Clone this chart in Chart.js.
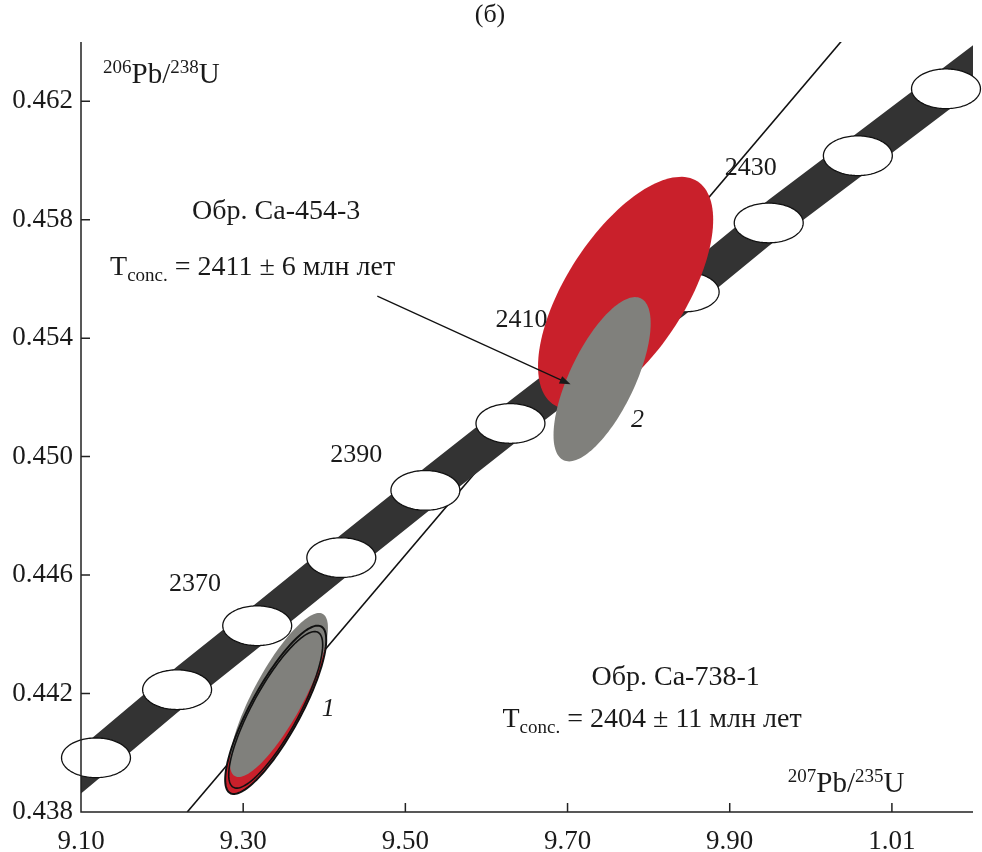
<!DOCTYPE html>
<html>
<head>
<meta charset="utf-8">
<script src="https://cdn.jsdelivr.net/npm/chart.js@4.4.1/dist/chart.umd.min.js"></script>
<style>
  html, body { margin: 0; padding: 0; background: #fff; }
  canvas { display: block; }
</style>
</head>
<body>
<canvas id="concordia" width="982" height="852"></canvas>
<script>
// age marks on the concordia (Ma) and where they sit on the plot
const ages = [2350, 2360, 2370, 2380, 2390, 2400, 2410, 2420, 2430, 2440, 2450];
const concX = [9.1185, 9.2185, 9.3173, 9.4210, 9.5247, 9.6296, 9.7358, 9.8444, 9.9481, 10.058, 10.1667];
const concY = [0.43983, 0.44213, 0.44429, 0.44659, 0.44886, 0.45112, 0.45336, 0.45556, 0.45789, 0.46016, 0.46242];
const markErrX = 0.0425;   // half size of the white age ellipses
const markErrY = 0.00067;

const labelAges = [2370, 2390, 2410, 2430];
const labelX = [9.2407, 9.4395, 9.6432, 9.9259];
const labelY = [0.44568, 0.45004, 0.45461, 0.45975];

// concordia band (edges)
const bandX = [9.000, 9.1185, 9.2185, 9.3173, 9.4210, 9.5247, 9.6296, 9.7358, 9.8444, 9.9481, 10.058, 10.1667, 10.300];
const bandUpper = [0.43788, 0.44061, 0.44291, 0.44507, 0.44737, 0.44964, 0.45190, 0.45414, 0.45634, 0.45867, 0.46094, 0.46320, 0.46597];
const bandLower = [0.43632, 0.43905, 0.44135, 0.44351, 0.44581, 0.44808, 0.45034, 0.45258, 0.45478, 0.45711, 0.45938, 0.46164, 0.46441];

// discordia line
const discX = [9.231, 10.040];
const discY = [0.4380, 0.4641];

// sample error ellipses: 1 (red, gray), 2 (red, gray)
const sampleNames = ['1a', '1b', '2a', '2b'];
const sampleX = [9.3401, 9.3440, 9.7716, 9.7426];
const sampleY = [0.44145, 0.441950, 0.455523, 0.452613];
const sampleErrX = [0.0623, 0.0605, 0.1080, 0.0599];
const sampleErrY = [0.002842, 0.00277, 0.003924, 0.002774];
const sampleRho = [0.83, 0.82, 0.63, 0.68];

// axes
const xTicks = [9.10, 9.30, 9.50, 9.70, 9.90, 10.10];
const xTickLabels = ['9.10', '9.30', '9.50', '9.70', '9.90', '1.01'];
const yTicks = [0.438, 0.442, 0.446, 0.450, 0.454, 0.458, 0.462];
const yTickLabels = ['0.438', '0.442', '0.446', '0.450', '0.454', '0.458', '0.462'];

// notes on the plot
const sampleA = 'Обр. Са-454-3';
const sampleAAge = ' = 2411 ± 6 млн лет';
const sampleB = 'Обр. Са-738-1';
const sampleBAge = ' = 2404 ± 11 млн лет';

const SERIF = "'Liberation Serif', 'Times New Roman', serif";
const RED = '#c9202b';
const GRAY = '#80807c';
const sampleFill = [RED, GRAY, RED, GRAY];

function ellipsePath(ctx, sx, sy, cx, cy, ex, ey, rho, k) {
  const r = Math.sqrt(1 - rho * rho);
  ctx.beginPath();
  for (let i = 0; i <= 144; i++) {
    const t = i / 144 * 2 * Math.PI;
    const x = sx.getPixelForValue(cx + k * ex * Math.cos(t));
    const y = sy.getPixelForValue(cy + k * ey * (rho * Math.cos(t) + r * Math.sin(t)));
    if (i === 0) ctx.moveTo(x, y); else ctx.lineTo(x, y);
  }
  ctx.closePath();
}

// text made of pieces: [text, size, dy]
function drawPieces(ctx, x, y, pieces, align) {
  let total = 0;
  pieces.forEach(p => { ctx.font = p[1] + 'px ' + SERIF; total += ctx.measureText(p[0]).width; });
  let cx = align === 'center' ? x - total / 2 : x;
  ctx.textAlign = 'left';
  ctx.textBaseline = 'alphabetic';
  pieces.forEach(p => {
    ctx.font = p[1] + 'px ' + SERIF;
    ctx.fillText(p[0], cx, y + p[2]);
    cx += ctx.measureText(p[0]).width;
  });
}

const concordiaPlugin = {
  id: 'concordia',
  afterDatasetsDraw(chart) {
    const ctx = chart.ctx;
    const sx = chart.scales.x, sy = chart.scales.y;
    ctx.save();
    // white age ellipses on the band
    ages.forEach((a, i) => {
      ellipsePath(ctx, sx, sy, concX[i], concY[i], markErrX, markErrY, 0, 1);
      ctx.fillStyle = '#fff';
      ctx.fill();
      ctx.lineWidth = 1.3;
      ctx.strokeStyle = '#111';
      ctx.stroke();
    });
    // sample ellipses
    sampleNames.forEach((n, i) => {
      ellipsePath(ctx, sx, sy, sampleX[i], sampleY[i], sampleErrX[i], sampleErrY[i], sampleRho[i], 1);
      ctx.fillStyle = sampleFill[i];
      ctx.fill();
    });
    // black outlines of ellipse 1
    ctx.strokeStyle = '#111';
    ctx.lineWidth = 2;
    ellipsePath(ctx, sx, sy, sampleX[0], sampleY[0], sampleErrX[0], sampleErrY[0], sampleRho[0], 1);
    ctx.stroke();
    ctx.lineWidth = 1.6;
    ellipsePath(ctx, sx, sy, sampleX[0], sampleY[0], sampleErrX[0], sampleErrY[0], sampleRho[0], 0.93);
    ctx.stroke();
    ctx.restore();
  },
  afterDraw(chart) {
    const ctx = chart.ctx;
    const sx = chart.scales.x, sy = chart.scales.y;
    const a = chart.chartArea;
    ctx.save();
    // axes with inward ticks
    ctx.strokeStyle = '#222';
    ctx.lineWidth = 1.5;
    ctx.beginPath();
    ctx.moveTo(a.left, a.top);
    ctx.lineTo(a.left, a.bottom);
    ctx.lineTo(a.right, a.bottom);
    xTicks.forEach(v => {
      const x = sx.getPixelForValue(v);
      ctx.moveTo(x, a.bottom);
      ctx.lineTo(x, a.bottom - 9);
    });
    yTicks.forEach(v => {
      const y = sy.getPixelForValue(v);
      ctx.moveTo(a.left, y);
      ctx.lineTo(a.left + 9, y);
    });
    ctx.stroke();

    ctx.fillStyle = '#1a1a1a';
    // age labels
    ctx.font = '26px ' + SERIF;
    ctx.textAlign = 'center';
    ctx.textBaseline = 'middle';
    labelAges.forEach((t, i) => {
      ctx.fillText(String(t), sx.getPixelForValue(labelX[i]), sy.getPixelForValue(labelY[i]));
    });
    // ellipse numbers
    ctx.font = 'italic 26px ' + SERIF;
    ctx.fillText('1', sx.getPixelForValue(9.4049), sy.getPixelForValue(0.44148));
    ctx.fillText('2', sx.getPixelForValue(9.7864), sy.getPixelForValue(0.45123));

    // sample notes
    ctx.font = '28px ' + SERIF;
    ctx.fillText(sampleA, sx.getPixelForValue(9.3407), sy.getPixelForValue(0.45826));
    ctx.fillText(sampleB, sx.getPixelForValue(9.8333), sy.getPixelForValue(0.44253));
    drawPieces(ctx, sx.getPixelForValue(9.1358), sy.getPixelForValue(0.45644) + 9,
      [['T', 28, 0], ['conc.', 19, 6], [sampleAAge, 28, 0]], 'left');
    drawPieces(ctx, sx.getPixelForValue(9.6198), sy.getPixelForValue(0.44118) + 9,
      [['T', 28, 0], ['conc.', 19, 6], [sampleBAge, 28, 0]], 'left');

    // arrow to ellipse 2
    const x1 = sx.getPixelForValue(9.4654), y1 = sy.getPixelForValue(0.45542);
    const x2 = sx.getPixelForValue(9.7037), y2 = sy.getPixelForValue(0.45244);
    const ang = Math.atan2(y2 - y1, x2 - x1);
    ctx.strokeStyle = '#111';
    ctx.lineWidth = 1.2;
    ctx.beginPath();
    ctx.moveTo(x1, y1);
    ctx.lineTo(x2 - 6 * Math.cos(ang), y2 - 6 * Math.sin(ang));
    ctx.stroke();
    ctx.beginPath();
    ctx.moveTo(x2, y2);
    ctx.lineTo(x2 - 11 * Math.cos(ang) + 4 * Math.sin(ang), y2 - 11 * Math.sin(ang) - 4 * Math.cos(ang));
    ctx.lineTo(x2 - 11 * Math.cos(ang) - 4 * Math.sin(ang), y2 - 11 * Math.sin(ang) + 4 * Math.cos(ang));
    ctx.closePath();
    ctx.fill();

    // axis titles
    drawPieces(ctx, sx.getPixelForValue(9.1272), sy.getPixelForValue(0.46296) + 10,
      [['206', 19, -10], ['Pb/', 29, 0], ['238', 19, -10], ['U', 29, 0]], 'left');
    drawPieces(ctx, sx.getPixelForValue(9.9716), sy.getPixelForValue(0.43901) + 10,
      [['207', 19, -10], ['Pb/', 29, 0], ['235', 19, -10], ['U', 29, 0]], 'left');

    // panel title
    ctx.font = '26px ' + SERIF;
    ctx.textAlign = 'center';
    ctx.textBaseline = 'middle';
    ctx.fillText('(б)', 490, 15);
    ctx.restore();
  }
};

new Chart(document.getElementById('concordia'), {
  type: 'line',
  data: {
    datasets: [{
      label: 'band upper',
      data: bandX.map((x, i) => ({ x: x, y: bandUpper[i] })),
      borderWidth: 0,
      borderColor: '#333',
      backgroundColor: '#333333',
      pointRadius: 0,
      fill: '+1',
      tension: 0
    }, {
      label: 'band lower',
      data: bandX.map((x, i) => ({ x: x, y: bandLower[i] })),
      borderWidth: 0,
      borderColor: '#333',
      pointRadius: 0,
      fill: false,
      tension: 0
    }, {
      label: 'discordia',
      data: discX.map((x, i) => ({ x: x, y: discY[i] })),
      borderColor: '#111',
      borderWidth: 1.6,
      pointRadius: 0,
      fill: false
    }]
  },
  options: {
    responsive: false,
    animation: false,
    devicePixelRatio: 1,
    layout: { padding: { top: 42, right: 9, left: 0, bottom: 0 } },
    plugins: {
      legend: { display: false },
      tooltip: { enabled: false }
    },
    scales: {
      x: {
        type: 'linear',
        min: 9.10,
        max: 10.20,
        grid: { display: false },
        border: { display: false },
        afterBuildTicks: scale => { scale.ticks = xTicks.map(v => ({ value: v })); },
        afterFit: scale => { scale.height = 40; },
        ticks: {
          autoSkip: false,
          maxRotation: 0,
          padding: 6,
          color: '#1a1a1a',
          font: { family: SERIF, size: 27 },
          callback: (v, i) => xTickLabels[i]
        }
      },
      y: {
        type: 'linear',
        min: 0.438,
        max: 0.464,
        grid: { display: false },
        border: { display: false },
        afterBuildTicks: scale => { scale.ticks = yTicks.map(v => ({ value: v })); },
        afterFit: scale => { scale.width = 81; },
        ticks: {
          autoSkip: false,
          padding: 0,
          color: '#1a1a1a',
          font: { family: SERIF, size: 27 },
          callback: (v, i) => yTickLabels[i]
        }
      }
    }
  },
  plugins: [concordiaPlugin]
});
</script>
</body>
</html>
